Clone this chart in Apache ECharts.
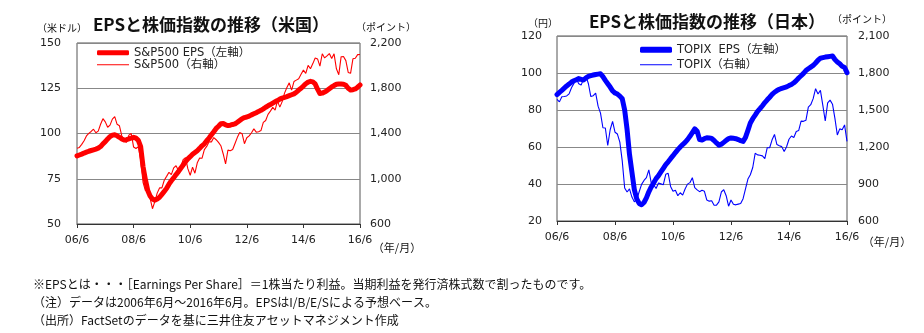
<!DOCTYPE html>
<html><head><meta charset="utf-8">
<script src="https://cdn.jsdelivr.net/npm/echarts@6/dist/echarts.min.js"></script>
<style>html,body{margin:0;padding:0;background:#fff}#c{width:924px;height:333px}</style>
</head><body><div id="c"></div>
<script>
const months = [
'06/6','06/7','06/8','06/9','06/10','06/11','06/12',
'07/1','07/2','07/3','07/4','07/5','07/6','07/7','07/8','07/9','07/10','07/11','07/12',
'08/1','08/2','08/3','08/4','08/5','08/6','08/7','08/8','08/9','08/10','08/11','08/12',
'09/1','09/2','09/3','09/4','09/5','09/6','09/7','09/8','09/9','09/10','09/11','09/12',
'10/1','10/2','10/3','10/4','10/5','10/6','10/7','10/8','10/9','10/10','10/11','10/12',
'11/1','11/2','11/3','11/4','11/5','11/6','11/7','11/8','11/9','11/10','11/11','11/12',
'12/1','12/2','12/3','12/4','12/5','12/6','12/7','12/8','12/9','12/10','12/11','12/12',
'13/1','13/2','13/3','13/4','13/5','13/6','13/7','13/8','13/9','13/10','13/11','13/12',
'14/1','14/2','14/3','14/4','14/5','14/6','14/7','14/8','14/9','14/10','14/11','14/12',
'15/1','15/2','15/3','15/4','15/5','15/6','15/7','15/8','15/9','15/10','15/11','15/12',
'16/1','16/2','16/3','16/4','16/5','16/6'];
const xTickLabels = ['06/6','08/6','10/6','12/6','14/6','16/6'];

const usEps = [87.6,88.1,88.6,89.2,89.7,90.2,90.6,91.0,91.4,91.9,
92.8,94.3,95.5,97.0,98.3,99.1,99.3,98.7,97.9,97.0,
96.4,96.6,97.0,97.5,97.9,97.4,96.2,92.7,81.7,74.5,
68.5,65.5,63.8,63.2,63.8,64.8,66.4,68.0,69.7,72.0,
73.9,75.5,77.3,78.9,80.8,82.6,84.4,86.0,87.2,88.5,
89.5,90.5,91.8,93.2,94.3,96.0,97.5,99.3,101.0,102.8,
104.0,105.4,105.5,104.8,104.4,104.6,105.0,105.3,106.2,107.2,
108.2,108.8,109.1,109.6,110.3,110.9,111.5,112.2,112.8,113.6,
114.5,115.3,116.0,116.8,117.5,118.2,119.0,119.6,120.0,120.4,
120.9,121.4,121.9,122.8,124.0,125.0,126.2,127.5,128.4,128.8,
128.5,127.4,124.5,122.1,122.3,122.9,123.7,124.7,125.7,126.5,
127.2,127.4,127.3,127.2,126.6,125.0,124.0,124.2,124.6,125.6,
126.8];
const sp500 = [1270,1277,1304,1336,1378,1401,1418,
1438,1407,1421,1482,1531,1503,1455,1474,1527,1549,1481,1468,
1379,1331,1323,1386,1400,1280,1267,1283,1166,969,896,903,
826,735,798,873,919,919,987,1021,1057,1036,1096,1115,
1074,1104,1169,1187,1089,1031,1102,1049,1141,1183,1181,1258,
1286,1327,1326,1364,1345,1321,1292,1219,1131,1253,1247,1258,
1312,1366,1408,1398,1310,1362,1379,1407,1441,1412,1416,1426,
1498,1515,1569,1598,1631,1606,1686,1633,1682,1757,1806,1848,
1783,1859,1872,1884,1924,1960,1931,2003,1972,2018,2068,2059,
1995,2105,2068,2086,2107,2063,2104,1972,1920,2079,2080,2044,
1940,1932,2060,2065,2097,2099];
const jpEps = [88.3,89.5,90.6,91.8,93.0,94.0,95.1,95.8,96.4,97.0,
96.6,96.2,97.4,98.2,98.6,98.9,99.2,99.4,99.6,98.0,
96.0,94.2,92.4,90.3,89.2,88.6,87.5,86.1,80.0,69.5,
56.0,46.5,37.0,32.0,29.5,28.8,30.0,32.5,35.8,38.4,
40.6,42.9,44.5,46.5,48.5,50.5,52.0,53.7,55.3,57.0,
58.6,60.0,61.3,62.5,64.0,65.8,67.8,69.8,68.5,64.0,
63.8,64.5,65.0,64.9,64.6,63.5,62.2,61.0,61.5,62.5,
63.6,64.5,64.9,64.7,64.5,64.0,63.4,63.0,65.2,69.0,
73.0,75.3,77.2,79.2,80.7,82.3,84.0,85.5,86.9,88.4,
89.6,90.5,91.2,91.7,92.1,92.5,93.2,93.8,94.7,95.9,
97.3,98.5,99.8,101.3,102.3,103.2,104.1,105.4,106.9,108.0,
108.3,108.6,108.8,109.0,109.2,107.3,106.0,105.0,103.6,103.0,
100.2];
const topix = [1586,1566,1608,1610,1614,1631,1681,
1716,1752,1713,1702,1754,1774,1713,1609,1616,1637,1531,1475,
1356,1354,1212,1340,1408,1320,1305,1239,1087,867,835,860,
794,756,773,837,897,929,951,1014,909,894,864,908,
901,894,979,987,880,841,850,805,829,810,860,899,
911,951,870,852,838,849,841,770,761,764,728,729,
755,835,854,805,720,770,736,731,737,742,781,860,
940,975,1034,1149,1136,1133,1128,1106,1194,1194,1258,1302,
1220,1211,1203,1163,1202,1263,1289,1277,1326,1333,1410,1408,
1416,1523,1543,1592,1673,1630,1659,1537,1411,1558,1580,1547,
1432,1297,1347,1340,1379,1245];

const usLeftTicks = [50,75,100,125,150];
const usRightTicks = [600,1000,1400,1800,2200];
const jpLeftTicks = [20,40,60,80,100,120];
const jpRightTicks = [600,900,1200,1500,1800,2100];

const usNames = ['S&P500 EPS（左軸）','S&P500（右軸）'];
const jpNames = ['TOPIX  EPS（左軸）','TOPIX（右軸）'];

const NUM = 'DejaVu Sans, Noto Sans CJK JP, sans-serif';
const JP = 'Noto Sans CJK JP, sans-serif';
const TXT = '#222';

function showTick(idx, val){ return xTickLabels.indexOf(val) >= 0; }
function fmt(v){ return Number(v).toLocaleString('en-US'); }

function xAx(grid){
  return {type:'category', gridIndex:grid, data:months, boundaryGap:false,
    axisLine:{lineStyle:{color:'#333',width:1}},
    axisTick:{interval:showTick, length:4, lineStyle:{color:'#333'}},
    axisLabel:{interval:showTick, margin:11, fontSize:11, color:TXT, fontFamily:NUM},
    splitLine:{show:false}};
}
function yAx(grid, ticks, pos, margin, split){
  return {type:'value', gridIndex:grid, position:pos, min:ticks[0], max:ticks[ticks.length-1],
    interval:ticks[1]-ticks[0],
    axisLine:{show:false}, axisTick:{show:false},
    axisLabel:{margin:margin, fontSize:11, color:TXT, fontFamily:NUM, formatter:fmt},
    splitLine:{show:split, lineStyle:{color:'#888',width:1}}};
}
function leg(name, left, top, icon, h){
  return {data:[name], left:left, top:top, padding:0, icon:icon, itemWidth:32, itemHeight:h,
    textStyle:{fontSize:11.5, color:TXT, fontFamily:NUM}, selectedMode:false};
}
function txt(x,y,s,font,align){
  return {type:'text', x:x, y:y, style:{text:s, font:font, fill:'#111', align:align||'center', verticalAlign:'middle'}};
}

const chart = echarts.init(document.getElementById('c'), null, {renderer:'canvas'});
chart.setOption({
  animation:false,
  backgroundColor:'#fff',
  grid:[
    {left:77, top:43, width:283, height:181, show:true, borderColor:'#555', borderWidth:1, containLabel:false},
    {left:557, top:36, width:290, height:185, show:true, borderColor:'#555', borderWidth:1, containLabel:false}
  ],
  xAxis:[xAx(0), xAx(1)],
  yAxis:[
    yAx(0, usLeftTicks, 'left', 16, true),
    yAx(0, usRightTicks, 'right', 10, false),
    yAx(1, jpLeftTicks, 'left', 15, true),
    yAx(1, jpRightTicks, 'right', 11, false)
  ],
  legend:[
    leg(usNames[0], 97, 47, 'roundRect', 5),
    leg(usNames[1], 97, 59, 'rect', 1),
    leg(jpNames[0], 640, 44, 'roundRect', 6),
    leg(jpNames[1], 640, 59, 'rect', 1)
  ],
  series:[
    {name:usNames[0], type:'line', xAxisIndex:0, yAxisIndex:0, data:usEps, showSymbol:false, symbol:'none',
     color:'#ff0000', lineStyle:{width:5, color:'#ff0000', cap:'round', join:'round'}},
    {name:usNames[1], type:'line', xAxisIndex:0, yAxisIndex:1, data:sp500, showSymbol:false, symbol:'none',
     color:'#ff0000', lineStyle:{width:1.1, color:'#ff0000'}},
    {name:jpNames[0], type:'line', xAxisIndex:1, yAxisIndex:2, data:jpEps, showSymbol:false, symbol:'none',
     color:'#0000ff', lineStyle:{width:5, color:'#0000ff', cap:'round', join:'round'}},
    {name:jpNames[1], type:'line', xAxisIndex:1, yAxisIndex:3, data:topix, showSymbol:false, symbol:'none',
     color:'#0000ff', lineStyle:{width:1.1, color:'#0000ff'}}
  ],
  graphic:[
    txt(211,25,'EPSと株価指数の推移（米国）','bold 17px '+JP),
    txt(707,22,'EPSと株価指数の推移（日本）','bold 17px '+JP),
    txt(62,28,'（米ドル）','10px '+JP),
    txt(386,27,'（ポイント）','10px '+JP),
    txt(543,23,'（円）','10px '+JP),
    txt(862,19,'（ポイント）','10px '+JP),
    txt(397,248,'（年/月）','11px '+JP),
    txt(887,242,'（年/月）','11px '+JP),
    txt(33,284,'※EPSとは・・・［Earnings Per Share］＝1株当たり利益。当期利益を発行済株式数で割ったものです。','12px '+JP,'left'),
    txt(33,302,'（注）データは2006年6月～2016年6月。EPSはI/B/E/Sによる予想ベース。','12px '+JP,'left'),
    txt(33,320,'（出所）FactSetのデータを基に三井住友アセットマネジメント作成','12px '+JP,'left')
  ]
});
</script>
</body></html>
